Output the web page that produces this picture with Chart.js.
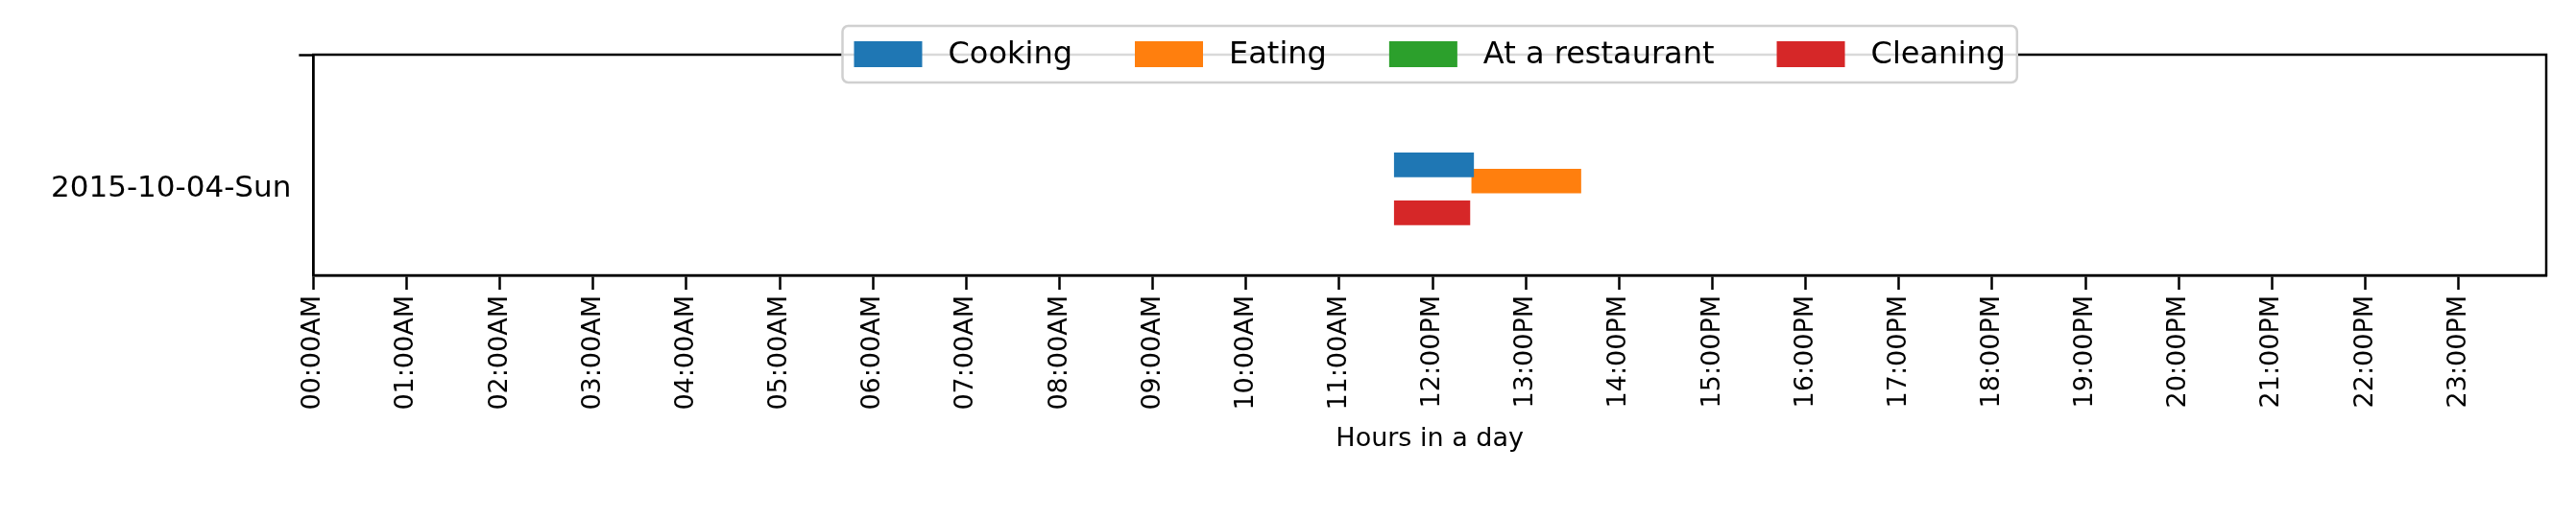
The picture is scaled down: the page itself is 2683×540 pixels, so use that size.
<!DOCTYPE html>
<html><head><meta charset="utf-8">
<script src="https://cdn.jsdelivr.net/npm/chart.js@4"></script>
<style>html,body{margin:0;padding:0;background:#fff}#w{width:2683px;height:540px}</style>
</head><body><div id="w"><canvas id="c"></canvas></div>
<script>
const dayLabel = "2015-10-04-Sun";
const activities = ["Cooking", "Eating", "At a restaurant", "Cleaning"];
const colors = ["#1f77b4", "#ff7f0e", "#2ca02c", "#d62728"];
// [start hour, end hour, row position]
const cooking = [[11.59, 12.44, 0.175]];
const eating = [[12.42, 13.59, 0.246]];
const restaurant = [];
const cleaning = [[11.59, 12.40, 0.392]];
const dayTick = 0.283;
const hourTicks = Array.from({length: 24}, (_, i) => i);
const hourLabels = ["00:00AM","01:00AM","02:00AM","03:00AM","04:00AM","05:00AM","06:00AM","07:00AM","08:00AM","09:00AM","10:00AM","11:00AM","12:00PM","13:00PM","14:00PM","15:00PM","16:00PM","17:00PM","18:00PM","19:00PM","20:00PM","21:00PM","22:00PM","23:00PM"];

const series = [cooking, eating, restaurant, cleaning];
const FONT = "'DejaVu Sans'";
Chart.defaults.font.family = FONT;
Chart.defaults.color = "#000";

const frame = {
  id: "frame",
  afterDraw(chart) {
    const {ctx, chartArea: a} = chart;
    ctx.save();
    ctx.strokeStyle = "#000"; ctx.lineWidth = 2.5;
    ctx.strokeRect(a.left, a.top, a.right - a.left, a.bottom - a.top);
    // legend
    ctx.font = "32px " + FONT;
    const patchW = 71, patchH = 27, gapT = 27, gapI = 65, pad = 12;
    let widths = activities.map(t => ctx.measureText(t).width);
    let total = widths.reduce((s, w) => s + patchW + gapT + w, 0) + gapI * (activities.length - 1) + 2 * pad;
    let x0 = (a.left + a.right) / 2 - total / 2, y0 = 27, h = 59;
    ctx.fillStyle = "rgba(255,255,255,0.85)";
    ctx.strokeStyle = "#d0d0d0"; ctx.lineWidth = 2.5;
    ctx.beginPath(); ctx.roundRect(x0, y0, total, h, 6); ctx.fill(); ctx.stroke();
    let x = x0 + pad, cy = y0 + h / 2;
    ctx.textBaseline = "middle";
    activities.forEach((t, i) => {
      ctx.fillStyle = colors[i];
      ctx.fillRect(x, cy - patchH / 2, patchW, patchH);
      x += patchW + gapT;
      ctx.fillStyle = "#000";
      ctx.fillText(t, x, cy + 1);
      x += widths[i] + gapI;
    });
    ctx.restore();
  }
};

new Chart(document.getElementById("c"), {
  type: "bar",
  data: {
    datasets: series.map((s, i) => ({
      label: activities[i],
      data: s.map(d => ({x: [d[0], d[1]], y: d[2]})),
      backgroundColor: colors[i],
      barThickness: 25,
      borderSkipped: false
    }))
  },
  options: {
    indexAxis: "y",
    responsive: true, maintainAspectRatio: false, animation: false,
    devicePixelRatio: 1,
    layout: {padding: {top: 57, right: 31, left: 45, bottom: 62}},
    plugins: {legend: {display: false}, tooltip: {enabled: false}},
    scales: {
      x: {
        type: "linear", min: 0, max: 23.94,
        afterBuildTicks: ax => { ax.ticks = hourTicks.map(v => ({value: v})); },
        ticks: {callback: (v) => hourLabels[v], maxRotation: 90, minRotation: 90, font: {size: 27}, padding: 6, autoSkip: false},
        grid: {drawOnChartArea: false, tickLength: 15, tickWidth: 2.5, color: "#000"},
        border: {color: "#000", width: 2.5},
        title: {display: true, text: "Hours in a day", font: {size: 27}, padding: {top: 8}}
      },
      y: {
        type: "linear", min: 0, max: 1, reverse: false,
        afterBuildTicks: ax => { ax.ticks = [{value: dayTick}]; },
        ticks: {callback: () => dayLabel, font: {size: 31}, padding: 8},
        grid: {drawOnChartArea: false, tickLength: 15, tickWidth: 2.5,
               color: c => (c.tick && Math.abs(c.tick.value - dayTick) < 1e-6) ? "#000" : "rgba(0,0,0,0)"},
        border: {color: "#000", width: 2.5}
      }
    }
  },
  plugins: [frame]
});
</script></body></html>
